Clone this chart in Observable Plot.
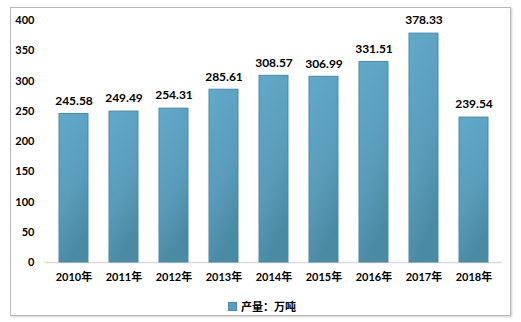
<!DOCTYPE html>
<html><head><meta charset="utf-8">
<script src="https://cdn.jsdelivr.net/npm/d3@7"></script>
<script src="https://cdn.jsdelivr.net/npm/@observablehq/plot@0.6"></script>
<style>
body{margin:0;background:#fff;font-family:Lato,"Noto Sans CJK SC",sans-serif;}
#frame{position:absolute;left:10px;top:7px;width:499px;height:307px;border:1px solid #b8b8b8;box-shadow:1px 1px 2px #cfcfcf;}
#chart{position:absolute;left:0;top:0;}
#legend{position:absolute;left:228px;top:298px;font:bold 11px Lato,"Noto Sans CJK SC",sans-serif;color:#000;display:flex;align-items:center;}
#legend span.sw{display:inline-block;width:7px;height:7px;background:#5a9fc0;border:1px solid #4a8bab;margin-right:4px;}
</style></head>
<body>
<div id="frame"></div>
<div id="chart"></div>
<div id="legend"><span class="sw"></span><span>产量：万吨</span></div>
<script>
const years = ["2010年","2011年","2012年","2013年","2014年","2015年","2016年","2017年","2018年"];
const output = [245.58, 249.49, 254.31, 285.61, 308.57, 306.99, 331.51, 378.33, 239.54];
const yTicks = [0, 50, 100, 150, 200, 250, 300, 350, 400];

const data = years.map((y, i) => ({year: y, value: output[i]}));

const plot = Plot.plot({
  width: 521,
  height: 290,
  marginLeft: 45,
  marginRight: 19,
  marginTop: 20,
  marginBottom: 28,
  style: {fontFamily: 'Lato, "Noto Sans CJK SC", sans-serif', fontSize: "11px", fontWeight: "bold", color: "#000", background: "transparent"},
  x: {domain: years, paddingInner: 0.43, paddingOuter: 0.215, label: null, tickSize: 0, tickPadding: 11},
  y: {domain: [0, 400], ticks: yTicks, label: null, tickSize: 0, tickPadding: 11},
  marks: [
    Plot.ruleY([0], {stroke: "#d9d9d9", strokeWidth: 1.5}),
    Plot.barY(data, {x: "year", y: "value", fill: "url(#barGrad)", stroke: "#4a89a8", strokeWidth: 1}),
    Plot.text(data, {x: "year", y: "value", text: d => d.value.toFixed(2), dy: -13, fontSize: 12, fontWeight: "bold", fill: "#000"})
  ]
});

const svg = d3.select(plot);
const defs = svg.insert("defs", ":first-child");
const g = defs.append("linearGradient").attr("id", "barGrad")
  .attr("x1", "0").attr("y1", "0").attr("x2", "0.3").attr("y2", "1");
g.append("stop").attr("offset", "0%").attr("stop-color", "#62a9c9");
g.append("stop").attr("offset", "60%").attr("stop-color", "#5a9cba");
g.append("stop").attr("offset", "100%").attr("stop-color", "#4b8aa3");

document.getElementById("chart").appendChild(plot);
</script>
</body></html>
